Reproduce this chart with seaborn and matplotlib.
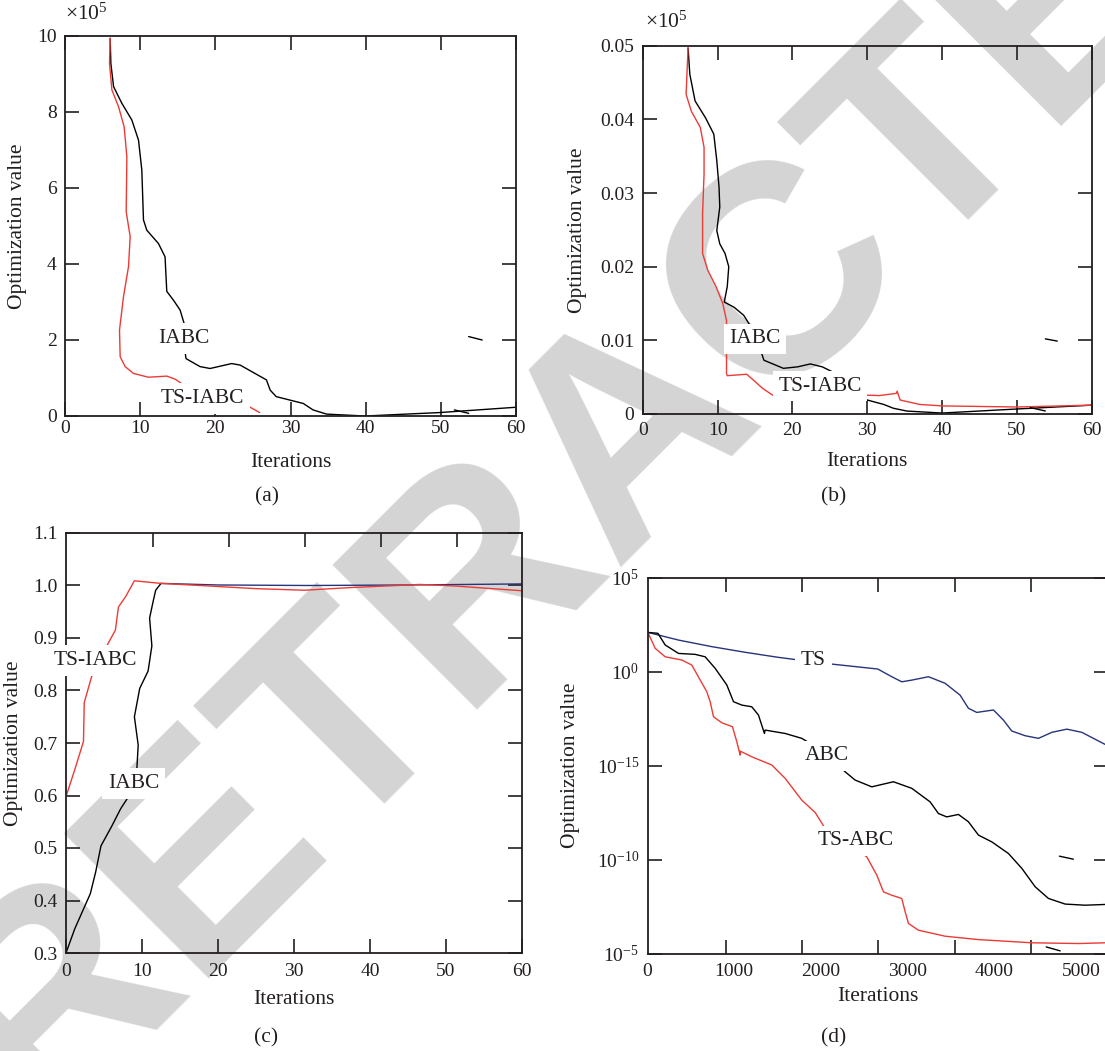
import matplotlib
matplotlib.use("Agg")
import matplotlib.pyplot as plt
from matplotlib.ticker import FixedLocator, FuncFormatter, NullLocator
import numpy as np
import pandas as pd
import seaborn as sns

sns.set_style("ticks")
plt.rcParams['font.family'] = ['Liberation Serif', 'DejaVu Serif']
plt.rcParams['mathtext.fontset'] = 'custom'
plt.rcParams['mathtext.rm'] = 'Liberation Serif'
plt.rcParams['mathtext.it'] = 'Liberation Serif:italic'

RED = '#ec3b36'
BLUE = '#27347a'
INK = '#231f20'

# (a) optimization value (x10^5) vs iterations
a_iabc_x = [6.01, 6.1, 6.46, 7.56, 8.89, 9.78, 10.22, 10.44, 10.88, 12.43, 13.31, 13.54, 14.42, 15.31,
            15.84, 15.97, 16.1, 17.96, 19.3, 22.17, 23.3, 26.8, 27.3, 28.1, 29.9, 31.7, 33.0, 34.8,
            39.9, 49.8, 60.0]
a_iabc_y = [9.94, 9.28, 8.67, 8.23, 7.79, 7.26, 6.47, 5.16, 4.89, 4.54, 4.19, 3.28, 3.05, 2.79,
            2.44, 1.69, 1.51, 1.30, 1.25, 1.38, 1.34, 0.95, 0.68, 0.51, 0.42, 0.33, 0.16, 0.05,
            0.0, 0.09, 0.23]
a_ts_x = [6.01, 5.92, 6.24, 7.12, 7.87, 8.23, 8.14, 8.2, 8.67, 8.45, 7.78, 7.25, 7.34, 8.0, 9.11, 11.1,
          13.54, 14.65, 15.75, 20.0, 24.5, 25.9]
a_ts_y = [9.94, 9.28, 8.58, 8.14, 7.61, 6.82, 5.38, 5.3, 4.72, 3.93, 3.14, 2.26, 1.56, 1.30, 1.12, 1.02,
          1.05, 0.97, 0.82, 0.5, 0.245, 0.09]
a_tail_x = [51.8, 53.7]
a_tail_y = [0.16, 0.07]
a_dash_x = [53.7, 55.5]
a_dash_y = [2.09, 2.0]

# (b) optimization value (x10^5) vs iterations
b_iabc_x = [6.06, 6.3, 7.0, 8.4, 9.5, 9.9, 10.2, 10.3, 9.9, 10.3, 11.0, 11.5, 11.3, 10.9, 12.2, 13.5,
            14.3, 15.2, 15.9, 16.2, 18.8, 20.7, 22.4, 24.0, 25.6, 28.5, 30.0, 32.2, 33.5, 35.3, 40.0,
            50.0, 60.0]
b_iabc_y = [0.0497, 0.0461, 0.0425, 0.0402, 0.0380, 0.0344, 0.0308, 0.0281, 0.0249, 0.0231, 0.0218,
            0.0200, 0.0173, 0.0152, 0.0145, 0.0134, 0.0121, 0.0100, 0.0082, 0.0073, 0.0062, 0.0064,
            0.0068, 0.0064, 0.0056, 0.0030, 0.0019, 0.0013, 0.00078, 0.0004, 0.00013, 0.00068, 0.0012]
b_ts_x = [6.06, 5.8, 6.5, 7.7, 8.2, 8.2, 8.0, 8.0, 8.7, 9.8, 10.7, 11.2, 11.2, 11.3, 13.9, 14.8, 16.0,
          17.6, 23.0, 28.6, 31.6, 33.9, 34.0, 34.4, 37.0, 40.0, 50.0, 60.0]
b_ts_y = [0.0497, 0.0434, 0.0411, 0.0389, 0.0362, 0.0326, 0.0272, 0.0218, 0.0195, 0.0173, 0.0150,
          0.0127, 0.0055, 0.0052, 0.0054, 0.0046, 0.0035, 0.0024, 0.0026, 0.0026, 0.0025, 0.0028,
          0.0031, 0.0019, 0.0013, 0.0011, 0.00095, 0.0012]
b_tail_x = [51.8, 53.8]
b_tail_y = [0.00087, 0.00041]
b_dash_x = [53.8, 55.4]
b_dash_y = [0.0102, 0.0099]

# (c) optimization value vs iterations
c_ts_x = [0, 1.15, 2.3, 2.4, 3.46, 5.1, 6.5, 6.9, 7.85, 9.0, 12.5, 18.9, 25.0, 31.4, 37.4, 46.6, 51.2, 60.0]
c_ts_y = [0.598, 0.649, 0.703, 0.777, 0.831, 0.878, 0.915, 0.959, 0.979, 1.009, 1.004, 0.999, 0.994,
          0.991, 0.996, 1.002, 0.999, 0.990]
c_iabc_x = [0, 1.15, 3.2, 3.9, 4.6, 6.0, 7.2, 8.1, 9.3, 9.5, 9.0, 9.7, 10.8, 11.3, 11.0, 11.5, 11.8, 12.5]
c_iabc_y = [0.3, 0.346, 0.413, 0.454, 0.504, 0.541, 0.575, 0.595, 0.645, 0.696, 0.75, 0.804, 0.837,
            0.885, 0.938, 0.972, 0.991, 1.004]
c_top_x = [12.5, 20.0, 31.9, 45.0, 60.0]
c_top_y = [1.004, 1.001, 1.000, 1.001, 1.003]

# (d) optimization value (log10 position) vs iterations
d_ts_x = [4, 358, 743, 1127, 1511, 2049, 2656, 2818, 2933, 3049, 3241, 3433, 3606, 3702, 3798, 3991,
          4106, 4202, 4356, 4510, 4664, 4837, 5010, 5278, 5400]
d_ts_log = [2.09, 1.68, 1.33, 1.03, 0.76, 0.44, 0.14, -0.27, -0.54, -0.45, -0.27, -0.62, -1.25, -1.95,
            -2.17, -2.04, -2.58, -3.16, -3.41, -3.55, -3.23, -3.06, -3.23, -3.87, -4.15]
d_abc_x = [4, 120, 204, 358, 550, 665, 780, 915, 992, 1088, 1203, 1280, 1349, 1357, 1588, 1780, 1876,
           2100, 2280, 2395, 2587, 2837, 3049, 3260, 3356, 3452, 3587, 3702, 3818, 3972, 4164, 4318,
           4472, 4625, 4818, 5049, 5278, 5400]
d_abc_log = [2.09, 2.04, 1.42, 0.97, 0.92, 0.79, 0.18, -0.71, -1.60, -1.78, -1.87, -2.31, -3.29, -3.11,
             -3.29, -3.55, -3.82, -4.6, -5.33, -5.77, -6.13, -5.86, -6.21, -6.93, -7.55, -7.73, -7.60,
             -7.99, -8.70, -9.06, -9.68, -10.47, -11.45, -12.07, -12.37, -12.43, -12.39, -12.38]
d_tsabc_x = [4, 89, 204, 396, 511, 684, 723, 761, 857, 980, 1030, 1069, 1069, 1203, 1434, 1588, 1780,
             1933, 2049, 2300, 2530, 2645, 2722, 2818, 2933, 2972, 3010, 3126, 3433, 3818, 4433, 4971,
             5278, 5400]
d_tsabc_log = [2.09, 1.24, 0.79, 0.62, 0.35, -1.07, -1.60, -2.40, -2.72, -2.93, -3.73, -4.44, -4.23,
               -4.53, -4.97, -5.68, -6.84, -7.49, -8.34, -9.1, -9.86, -10.83, -11.72, -11.90, -12.07,
               -12.78, -13.40, -13.76, -14.08, -14.26, -14.43, -14.47, -14.43, -14.43]
d_dash1_x = [4751, 4912]
d_dash1_log = [-9.82, -9.98]
d_dash2_x = [4599, 4760]
d_dash2_log = [-14.65, -14.86]

d_ytick_pos = [5, 0, -5, -10, -15]
d_ytick_lab = ['$10^{5}$', '$10^{0}$', '$10^{-15}$', '$10^{-10}$', '$10^{-5}$']
d_xtick_lab = [0, 1000, 2000, 3000, 4000, 5000]
d_xmarks = [900, 1782, 2664, 3546, 4428]

W, H = 1105, 1051
FS_TICK = 14
FS_TEXT = 15.5
fig = plt.figure(figsize=(W / 100, H / 100), dpi=100)


def box(l, r, t, b):
    return [l / W, 1 - b / H, (r - l) / W, (b - t) / H]


def draw(ax, x, y, color, lw=1.0):
    df = pd.DataFrame({'x': x, 'y': y})
    sns.lineplot(data=df, x='x', y='y', ax=ax, color=color, lw=lw, sort=False,
                 estimator=None, legend=False)


def label(ax, x, y, s):
    ax.text(x, y, s, ha='center', va='center', fontsize=FS_TEXT, color=INK, zorder=6,
            bbox=dict(fc='white', ec='none', pad=4))


def style(ax, xpad=3.5):
    ax.set_facecolor('none')
    for sp in ax.spines.values():
        sp.set_linewidth(1.3)
        sp.set_color(INK)
        sp.set_zorder(4)
    ax.tick_params(which='both', direction='in', length=10, width=1.2, color=INK,
                   top=True, right=True, labelsize=FS_TICK, labelcolor=INK)
    ax.tick_params(axis='y', pad=6)
    ax.tick_params(axis='x', pad=xpad)
    ax.set_xlabel('Iterations', fontsize=FS_TEXT, color=INK)
    ax.set_ylabel('Optimization value', fontsize=FS_TEXT, color=INK)


def place_labels(ax, xl_y, yl_x):
    ax.xaxis.set_label_coords(0.5, xl_y)
    ax.xaxis.label.set_va('top')
    ax.yaxis.set_label_coords(yl_x, 0.5)
    ax.yaxis.label.set_va('center')


# watermark behind everything
fig.text(632 / W, 1 - 428 / H, 'RETRACTED', rotation=45, rotation_mode='anchor',
         ha='center', va='center', fontsize=214, family='Liberation Sans',
         weight='bold', color='#d4d4d4', zorder=-1)

# ---- (a)
axa = fig.add_axes(box(65, 516, 36, 416))
draw(axa, a_iabc_x, a_iabc_y, 'black')
draw(axa, a_ts_x, a_ts_y, RED)
draw(axa, a_tail_x, a_tail_y, 'black')
draw(axa, a_dash_x, a_dash_y, 'black')
axa.set_xlim(0, 60)
axa.set_ylim(0, 10)
axa.set_xticks(range(0, 61, 10))
axa.set_yticks(range(0, 11, 2))
style(axa, xpad=3)
for t, v in zip(axa.yaxis.get_major_ticks(), range(0, 11, 2)):
    if v in (8, 10):
        t.tick2line.set_visible(False)
label(axa, 15.84, 2.04, 'IABC')
label(axa, 18.3, 0.46, 'TS-IABC')
axa.text(0, 1.03, r'$\times 10^{5}$', transform=axa.transAxes, fontsize=FS_TEXT, ha='left',
         va='bottom', color=INK)
place_labels(axa, -0.097, -0.106)

# ---- (b)
axb = fig.add_axes(box(642.7, 1091.7, 45.7, 414))
draw(axb, b_iabc_x, b_iabc_y, 'black')
draw(axb, b_ts_x, b_ts_y, RED)
draw(axb, b_tail_x, b_tail_y, 'black')
draw(axb, b_dash_x, b_dash_y, 'black')
axb.set_xlim(0, 60)
axb.set_ylim(0, 0.05)
axb.set_xticks(range(0, 61, 10))
b_yt = [0, 0.01, 0.02, 0.03, 0.04, 0.05]
axb.set_yticks(b_yt)
axb.yaxis.set_major_formatter(FuncFormatter(lambda v, p: '0' if abs(v) < 1e-9 else f'{v:.2f}'))
style(axb, xpad=5.5)
for t, v in zip(axb.yaxis.get_major_ticks(), b_yt):
    if v in (0.04, 0.05):
        t.tick2line.set_visible(False)
label(axb, 15.0, 0.0102, 'IABC')
label(axb, 23.7, 0.00375, 'TS-IABC')
axb.text(0.005, 1.035, r'$\times 10^{5}$', transform=axb.transAxes, fontsize=FS_TEXT, ha='left',
         va='bottom', color=INK)
place_labels(axb, -0.102, -0.145)

# ---- (c)
axc = fig.add_axes(box(66, 522, 533, 953))
draw(axc, c_top_x, c_top_y, BLUE)
draw(axc, c_iabc_x, c_iabc_y, 'black')
draw(axc, c_ts_x, c_ts_y, RED)
axc.set_xlim(0, 60)
axc.set_ylim(0.3, 1.1)
axc.set_xticks(range(0, 61, 10))
axc.set_yticks(np.round(np.arange(0.3, 1.11, 0.1), 1))
axc.yaxis.set_major_formatter(FuncFormatter(lambda v, p: f'{v:.1f}'))
style(axc, xpad=7)
axc.tick_params(axis='x', top=False)
sec = axc.secondary_xaxis('top', functions=(lambda x: x - 1.5, lambda x: x + 1.5))
sec.set_xticks([10, 20, 30, 40, 50])
sec.tick_params(direction='in', length=10, width=1.2, color=INK, labeltop=False)
sec.spines['top'].set_visible(False)
label(axc, 3.9, 0.857, 'TS-IABC')
label(axc, 8.9, 0.623, 'IABC')
place_labels(axc, -0.088, -0.116)

# ---- (d)
axd = fig.add_axes(box(647.5, 1108, 577.7, 953.5))
draw(axd, d_ts_x, 10.0 ** np.array(d_ts_log), BLUE)
draw(axd, d_abc_x, 10.0 ** np.array(d_abc_log), 'black')
draw(axd, d_tsabc_x, 10.0 ** np.array(d_tsabc_log), RED)
draw(axd, d_dash1_x, 10.0 ** np.array(d_dash1_log), 'black')
draw(axd, d_dash2_x, 10.0 ** np.array(d_dash2_log), 'black')
axd.set_yscale('log')
axd.set_xlim(0, 5312)
axd.set_ylim(1e-15, 1e5)
axd.yaxis.set_major_locator(FixedLocator([10.0 ** p for p in d_ytick_pos]))
axd.yaxis.set_major_formatter(FuncFormatter(
    lambda v, p: d_ytick_lab[d_ytick_pos.index(int(round(np.log10(v))))]))
axd.yaxis.set_minor_locator(NullLocator())
axd.set_xticks(d_xtick_lab)
axd.xaxis.set_minor_locator(FixedLocator(d_xmarks))
style(axd, xpad=6.5)
axd.tick_params(axis='x', which='major', length=0)
label(axd, 1915, 10 ** 0.57, 'TS')
label(axd, 2069, 10 ** -4.48, 'ABC')
label(axd, 2403, 10 ** -9.0, 'TS-ABC')
place_labels(axd, -0.090, -0.167)

# panel captions
for s, x, y in [('(a)', 267, 497), ('(b)', 834, 497), ('(c)', 266, 1038), ('(d)', 834, 1038)]:
    fig.text(x / W, 1 - y / H, s, ha='center', va='center', fontsize=FS_TEXT, color=INK)

fig.savefig('out.png', dpi=100, facecolor='white')
